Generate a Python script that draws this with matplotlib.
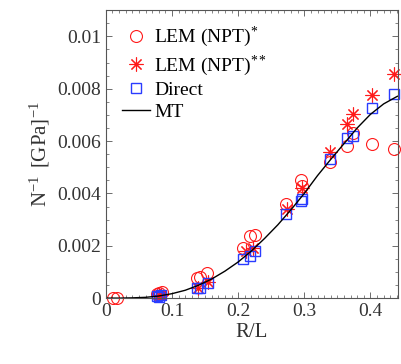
import matplotlib
matplotlib.use("Agg")
import matplotlib.pyplot as plt
from matplotlib.ticker import MultipleLocator

plt.rcParams["font.family"] = "Liberation Serif"
plt.rcParams["mathtext.fontset"] = "custom"
plt.rcParams["mathtext.rm"] = "Liberation Serif"
plt.rcParams["mathtext.it"] = "Liberation Serif:italic"

# LEM (NPT)* - red circles
lem1_x = [0.011, 0.017, 0.077, 0.080, 0.085, 0.138, 0.142, 0.153, 0.208, 0.218,
          0.226, 0.273, 0.295, 0.297, 0.339, 0.365, 0.374, 0.403, 0.436]
lem1_y = [0.0, 0.0, 0.00015, 0.0002, 0.00025, 0.00076, 0.0008, 0.00095, 0.0019, 0.00236,
          0.0024, 0.0036, 0.0045, 0.0043, 0.0052, 0.0058, 0.0063, 0.0059, 0.0057]

# LEM (NPT)** - red asterisks
lem2_x = [0.080, 0.083, 0.140, 0.155, 0.212, 0.222, 0.274, 0.296, 0.339, 0.365,
          0.374, 0.403, 0.436]
lem2_y = [0.0001, 0.00012, 0.0004, 0.0006, 0.0018, 0.0019, 0.0034, 0.0042, 0.0056, 0.00665,
          0.00703, 0.00776, 0.00855]

# Direct - blue squares
dir_x = [0.077, 0.080, 0.083, 0.138, 0.142, 0.155, 0.208, 0.218, 0.226, 0.273,
         0.295, 0.297, 0.339, 0.365, 0.374, 0.403, 0.436]
dir_y = [0.00008, 0.00005, 0.0001, 0.00038, 0.0004, 0.00057, 0.0015, 0.0016, 0.0018, 0.0032,
         0.0037, 0.0038, 0.0053, 0.0061, 0.0062, 0.00726, 0.0078]

# MT - black line
mt_x = [0.0, 0.02, 0.04, 0.06, 0.08, 0.10, 0.12, 0.14, 0.16, 0.18, 0.20, 0.22,
        0.24, 0.26, 0.28, 0.30, 0.32, 0.34, 0.36, 0.38, 0.40, 0.42, 0.44, 0.45]
mt_y = [0.0, 0.0, 0.00001, 0.00003, 0.00008, 0.00017, 0.0003, 0.00049, 0.00073, 0.00103,
        0.00138, 0.0018, 0.00228, 0.0028, 0.00338, 0.004, 0.00468, 0.0053, 0.0059,
        0.0065, 0.00702, 0.00742, 0.0077, 0.0078]

fig = plt.figure(figsize=(4.01, 3.64), dpi=100)
ax = fig.add_axes([0.264, 0.181, 0.729, 0.791])

ax.plot(lem1_x, lem1_y, "o", ms=8.6, mfc="none", mec="#ff1a1a", mew=0.8,
        clip_on=False, label=r"LEM (NPT)$^{*}$")
ax.plot(lem2_x, lem2_y, marker=(8, 2, 0), ls="none", ms=10, mec="#ff1a1a", mew=0.8,
        clip_on=False, label=r"LEM (NPT)$^{**}$")
ax.plot(dir_x, dir_y, "s", ms=7.0, mfc="none", mec="#2a3cff", mew=1.0,
        clip_on=False, label="Direct")
ax.plot(mt_x, mt_y, "-", color="k", lw=1.0, label="MT")

ax.set_xlim(0, 0.442)
ax.set_ylim(0, 0.011)
ax.xaxis.set_minor_locator(MultipleLocator(0.01))
ax.yaxis.set_minor_locator(MultipleLocator(0.0005))
ax.set_xticks([0, 0.1, 0.2, 0.3, 0.4])
ax.set_xticklabels(["0", "0.1", "0.2", "0.3", "0.4"])
ax.set_yticks([0, 0.002, 0.004, 0.006, 0.008, 0.01])
ax.set_yticklabels(["0", "0.002", "0.004", "0.006", "0.008", "0.01"])

ax.tick_params(which="both", direction="in", top=True, right=True,
               color="#555555", labelcolor="#333333", labelsize=14)
ax.tick_params(which="major", length=4, width=0.6)
ax.tick_params(which="minor", length=2, width=0.5)
for s in ax.spines.values():
    s.set_color("#555555")
    s.set_linewidth(0.8)

ax.set_xlabel("R/L", fontsize=15, color="#333333", labelpad=2)
ax.set_ylabel(r"N$^{-1}$ $\,$[GPa]$^{-1}$", fontsize=15, color="#333333", labelpad=4)

ax.legend(loc="upper left", frameon=False, fontsize=14, handlelength=1.45,
          handletextpad=0.2, labelspacing=0.2, borderaxespad=0.0, borderpad=0.0,
          bbox_to_anchor=(0.055, 0.948))

fig.savefig("out.png", dpi=100)
